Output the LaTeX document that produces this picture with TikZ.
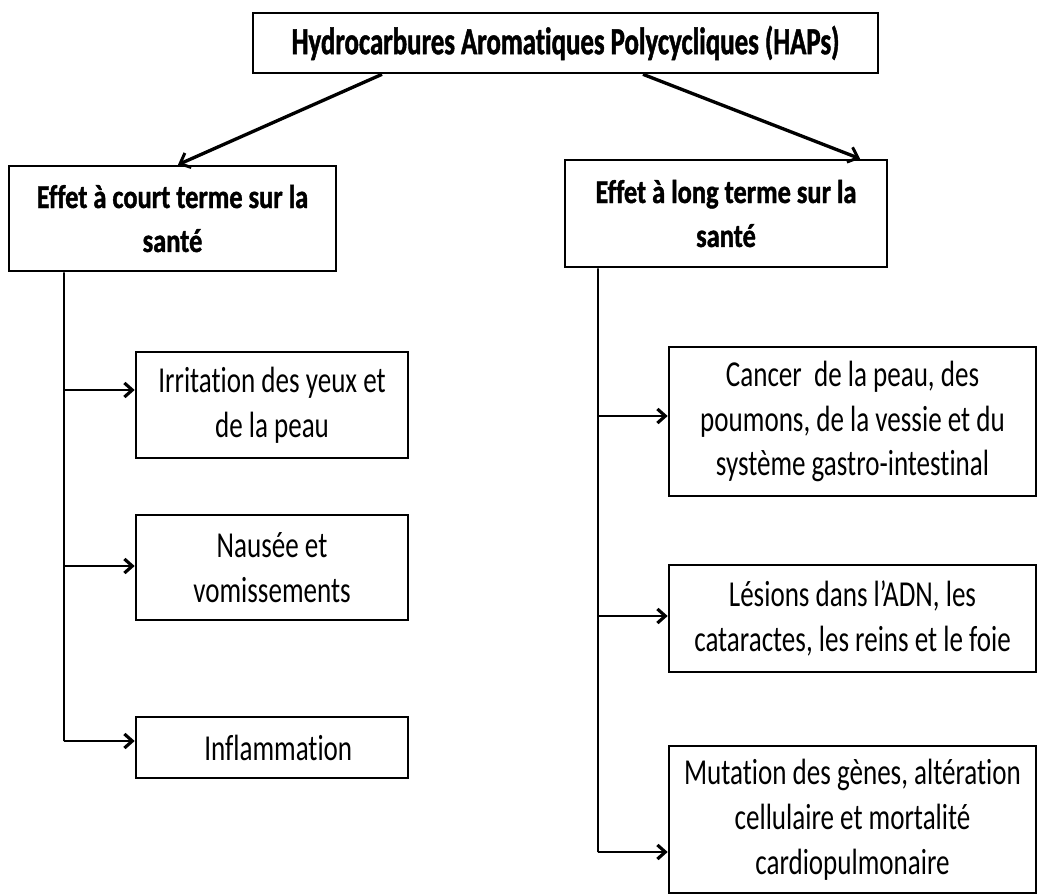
\documentclass[tikz,border=0pt]{standalone}
\usepackage{fontspec}
\usepackage{tikz}
\usetikzlibrary{arrows.meta}
\setmainfont{Carlito}[Ligatures={NoCommon}]
\newfontfamily\titlefont{Carlito}[FakeStretch=0.70, Ligatures={NoCommon}, FakeBold=1.2]
\newfontfamily\headfont{Carlito}[FakeStretch=0.80, Ligatures={NoCommon}, FakeBold=1.2]
\newfontfamily\boxfont{Carlito}[FakeStretch=0.74, Ligatures={NoCommon}]

\tikzset{
    effbox/.style={draw, line width=1.5pt, align=center, inner sep=2pt},
    headbox/.style={effbox, font={\headfont\bfseries\fontsize{18.8}{25}\selectfont}},
    itembox/.style={effbox, font={\boxfont\fontsize{20.8}{25.5}\selectfont}},
    bigarrow/.style={line width=1.9pt, -{Straight Barb[length=5pt, width=9pt, line width=1.7pt]}},
    branch/.style={line width=1.4pt, -{Straight Barb[length=4.5pt, width=8pt, line width=1.8pt]}},
    trunk/.style={line width=1pt}
}

\begin{document}
\begin{tikzpicture}
        \useasboundingbox (0,0) rectangle (20.78,-17.9);
        % top box
        \node[effbox, minimum width=12.5cm, minimum height=1.2cm, font={\titlefont\bfseries\fontsize{21.8}{25}\selectfont}] (hap) at (11.31,-0.86) {Hydrocarbures Aromatiques Polycycliques (HAPs)};
        % the two kinds of effects
        \node[headbox, minimum width=6.54cm, minimum height=2.1cm] (court) at (3.45,-4.37) {Effet à court terme sur la\\ santé};
        \node[headbox, minimum width=6.44cm, minimum height=2.14cm] (long) at (14.52,-4.27) {Effet à long terme sur la\\ santé};
        \draw[bigarrow] ([xshift=-3.67cm]hap.south) -- ([xshift=0.11cm]court.north);
        \draw[bigarrow] ([xshift=1.55cm]hap.south) -- ([xshift=2.68cm]long.north);
        % short term
        \node[itembox, minimum width=5.44cm, minimum height=2.12cm] (irrit) at (5.44,-8.10) {Irritation des yeux et\\ de la peau};
        \node[itembox, minimum width=5.44cm, minimum height=2.10cm] (nausee) at (5.44,-11.35) {Nausée et\\ vomissements};
        \node[itembox, minimum width=5.44cm, minimum height=1.22cm] (inflam) at (5.44,-14.95) {\hspace{0.25cm}Inflammation};
        % long term
        \node[itembox, minimum width=7.34cm, minimum height=2.98cm] (cancer) at (17.05,-8.43) {Cancer~ de la peau, des\\ poumons, de la vessie et du\\ système gastro-intestinal};
        \node[itembox, minimum width=7.34cm, minimum height=2.14cm] (lesion) at (17.05,-12.37) {Lésions dans l’ADN, les\\ cataractes, les reins et le foie};
        \node[itembox, minimum width=7.34cm, minimum height=2.94cm] (mutation) at (17.05,-16.39) {Mutation des gènes, altération\\ cellulaire et mortalité\\ cardiopulmonaire};
        % trunks and branches
        \coordinate (ctop) at ([xshift=-2.17cm]court.south);
        \coordinate (ltop) at ([xshift=-2.56cm]long.south);
        \foreach \b/\y in {irrit/-7.80, nausee/-11.32, inflam/-14.82} {
            \coordinate (p\b) at (1.28,\y);
            \draw[branch] (p\b) -- (p\b -| \b.west);
        }
        \foreach \b/\y in {cancer/-8.32, lesion/-12.32, mutation/-17.04} {
            \coordinate (p\b) at (11.96,\y);
            \draw[branch] (p\b) -- (p\b -| \b.west);
        }
        \draw[trunk] (ctop) -- (pinflam);
        \draw[trunk] (ltop) -- (pmutation);
    \end{tikzpicture}
\end{document}
